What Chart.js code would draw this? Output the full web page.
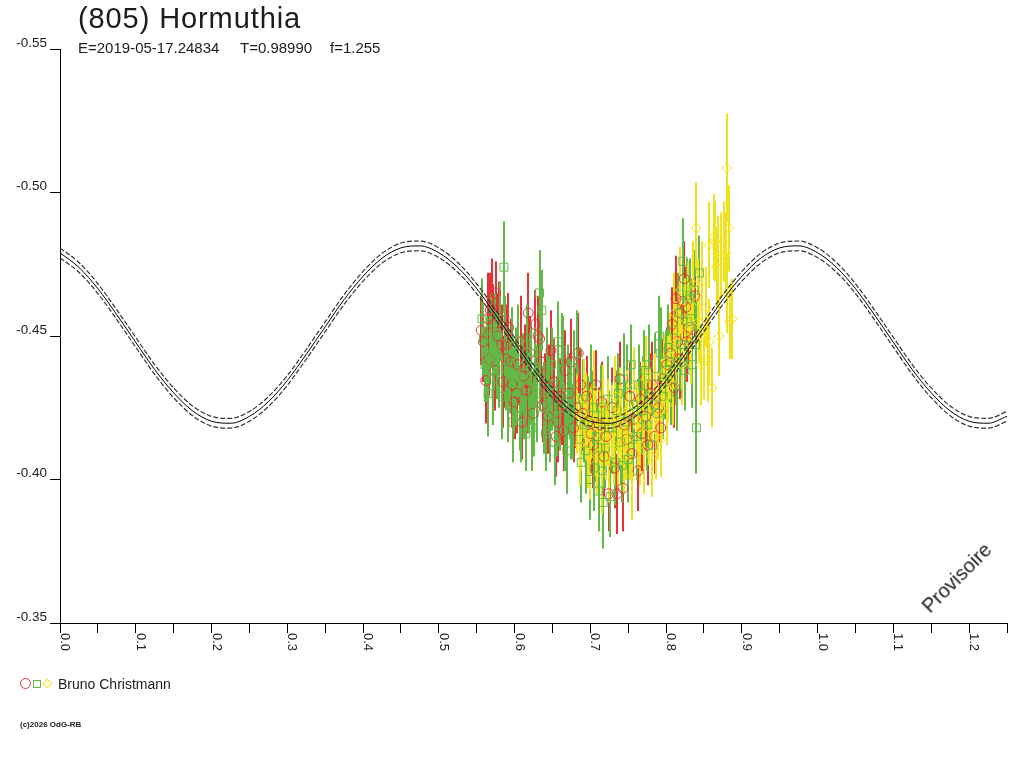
<!DOCTYPE html>
<html>
<head>
<meta charset="utf-8">
<script src="https://cdn.jsdelivr.net/npm/chart.js@4/dist/chart.umd.min.js"></script>
<style>
  body { margin: 0; background: #fff; }
  #wrap { position: relative; width: 1024px; height: 768px; font-family: "Liberation Sans", Arial, sans-serif; color: #1c1c1c; }
  #chart { position: absolute; left: 0; top: 0; }
  .txt { position: absolute; white-space: nowrap; line-height: 1; }
  #title { left: 78px; top: 4px; font-size: 29px; letter-spacing: 0.9px; }
  .sub { top: 40px; font-size: 15px; }
  #legend { left: 20px; top: 676px; height: 14px; }
  .sym { position: absolute; box-sizing: border-box; }
  #provisoire { left: 930px; top: 597px; font-size: 20px; transform-origin: 0 17px; transform: rotate(-45deg); }
  #copy { left: 20px; top: 721px; font-size: 8px; font-weight: bold; }
</style>
</head>
<body>
<div id="wrap">
  <canvas id="chart" width="1024" height="768"></canvas>
  <div class="txt" id="title">(805) Hormuthia</div>
  <div class="txt sub" style="left:78px">E=2019-05-17.24834</div>
  <div class="txt sub" style="left:240px">T=0.98990</div>
  <div class="txt sub" style="left:330px">f=1.255</div>
  <div class="txt" id="legend">
    <span class="sym" style="left:0;top:2px;width:11px;height:11px;border:1px solid #e8323a;border-radius:50%"></span>
    <span class="sym" style="left:13px;top:4px;width:8px;height:8px;border:1px solid #62b946"></span>
    <span class="sym" style="left:24px;top:4px;width:7px;height:7px;border:1px solid #f2e21c;transform:rotate(45deg)"></span>
    <span style="position:absolute;left:38px;top:1px;font-size:14px">Bruno Christmann</span>
  </div>
  <div class="txt" id="provisoire">Provisoire</div>
  <div class="txt" id="copy">(c)2026 OdG-RB</div>
</div>
<script>
// fitted curve, phase step 0.025
const curvePhase = [0.000,0.025,0.050,0.075,0.100,0.125,0.150,0.175,0.200,0.225,0.250,0.275,0.300,0.325,0.350,0.375,0.400,0.425,0.450,0.475,
  0.500,0.525,0.550,0.575,0.600,0.625,0.650,0.675,0.700,0.725,0.750,0.775,0.800,0.825,0.850,0.875,0.900,0.925,0.950,0.975,
  1.000,1.025,1.050,1.075,1.100,1.125,1.150,1.175,1.200,1.225,1.250];
const curveMid = [-0.4790,-0.4739,-0.4665,-0.4574,-0.4478,-0.4383,-0.4302,-0.4239,-0.4203,-0.4196,-0.4220,-0.4271,-0.4345,-0.4436,-0.4532,-0.4627,-0.4708,-0.4771,-0.4807,-0.4814,
  -0.4790,-0.4739,-0.4665,-0.4574,-0.4478,-0.4383,-0.4302,-0.4239,-0.4203,-0.4196,-0.4220,-0.4271,-0.4345,-0.4436,-0.4532,-0.4627,-0.4708,-0.4771,-0.4807,-0.4814,
  -0.4790,-0.4739,-0.4665,-0.4574,-0.4478,-0.4383,-0.4302,-0.4239,-0.4203,-0.4196,-0.4220];
const curveUpper = [-0.4807,-0.4756,-0.4682,-0.4591,-0.4495,-0.4400,-0.4319,-0.4256,-0.4220,-0.4213,-0.4237,-0.4288,-0.4362,-0.4453,-0.4549,-0.4644,-0.4725,-0.4788,-0.4824,-0.4831,
  -0.4807,-0.4756,-0.4682,-0.4591,-0.4495,-0.4400,-0.4319,-0.4256,-0.4220,-0.4213,-0.4237,-0.4288,-0.4362,-0.4453,-0.4549,-0.4644,-0.4725,-0.4788,-0.4824,-0.4831,
  -0.4807,-0.4756,-0.4682,-0.4591,-0.4495,-0.4400,-0.4319,-0.4256,-0.4220,-0.4213,-0.4237];
const curveLower = [-0.4773,-0.4722,-0.4648,-0.4557,-0.4461,-0.4366,-0.4285,-0.4222,-0.4186,-0.4179,-0.4203,-0.4254,-0.4328,-0.4419,-0.4515,-0.4610,-0.4691,-0.4754,-0.4790,-0.4797,
  -0.4773,-0.4722,-0.4648,-0.4557,-0.4461,-0.4366,-0.4285,-0.4222,-0.4186,-0.4179,-0.4203,-0.4254,-0.4328,-0.4419,-0.4515,-0.4610,-0.4691,-0.4754,-0.4790,-0.4797,
  -0.4773,-0.4722,-0.4648,-0.4557,-0.4461,-0.4366,-0.4285,-0.4222,-0.4186,-0.4179,-0.4203];

// observations: red circles
const redPhase = [0.556,0.562,0.565,0.568,0.572,0.575,0.578,0.583,0.588,0.592,0.597,0.600,0.604,0.608,0.612,0.616,0.620,0.624,0.627,0.631,
  0.635,0.640,0.644,0.648,0.652,0.657,0.662,0.667,0.672,0.678,0.684,0.690,0.695,0.701,0.707,0.712,0.718,0.724,0.729,0.735,
  0.739,0.743,0.748,0.752,0.758,0.763,0.768,0.773,0.779,0.785,0.790,0.796,0.801,0.806,0.811,0.815,0.819,0.822,0.826,0.830,0.834,0.838,
  0.559,0.566,0.570,0.574,0.580,0.585,0.590,0.595,0.603,0.610,0.614,0.618,0.633,0.637,0.646,0.655,0.660,0.665,0.675,0.681,
  0.687,0.698,0.704,0.715,0.721,0.732,0.745,0.755,0.766,0.776,0.782,0.793,0.808,0.813,0.818,0.824,0.828];
const redMag = [-0.4520,-0.4345,-0.4560,-0.4590,-0.4540,-0.4650,-0.4500,-0.4470,-0.4420,-0.4530,-0.4330,-0.4270,-0.4400,-0.4480,-0.4360,-0.4310,-0.4440,-0.4230,-0.4540,-0.4500,
  -0.4410,-0.4300,-0.4220,-0.4450,-0.4340,-0.4200,-0.4250,-0.4380,-0.4300,-0.4180,-0.4440,-0.4230,-0.4290,-0.4160,-0.4330,-0.4190,-0.4080,-0.3950,-0.4250,-0.3950,
  -0.4350,-0.3970,-0.4140,-0.4290,-0.4210,-0.4030,-0.4160,-0.4220,-0.4300,-0.4150,-0.4250,-0.4350,-0.4400,-0.4440,-0.4320,-0.4480,-0.4580,-0.4620,-0.4600,-0.4530,-0.4490,-0.4640,
  -0.4480,-0.4420,-0.4620,-0.4380,-0.4560,-0.4340,-0.4470,-0.4410,-0.4300,-0.4200,-0.4390,-0.4580,-0.4490,-0.4260,-0.4320,-0.4150,-0.4290,-0.4170,-0.4410,-0.4250,
  -0.4330,-0.4200,-0.4120,-0.4270,-0.4150,-0.4040,-0.4190,-0.4090,-0.4280,-0.4120,-0.4330,-0.4180,-0.4540,-0.4630,-0.4420,-0.4700,-0.4480];
const redErr = [0.012,0.015,0.016,0.013,0.014,0.011,0.015,0.014,0.017,0.012,0.015,0.013,0.014,0.016,0.014,0.015,0.013,0.014,0.012,0.014,
  0.015,0.014,0.013,0.014,0.015,0.014,0.013,0.014,0.014,0.012,0.014,0.013,0.014,0.014,0.012,0.013,0.014,0.013,0.014,0.014,
  0.013,0.015,0.014,0.012,0.013,0.014,0.013,0.012,0.014,0.013,0.012,0.014,0.013,0.012,0.014,0.014,0.012,0.013,0.014,0.013,0.012,0.014,
  0.014,0.013,0.015,0.014,0.013,0.016,0.014,0.015,0.014,0.013,0.015,0.014,0.014,0.013,0.015,0.014,0.013,0.014,0.015,0.014,
  0.013,0.014,0.015,0.014,0.013,0.014,0.015,0.014,0.013,0.014,0.015,0.014,0.013,0.015,0.014,0.013,0.014];

// green squares
const greenPhase = [0.559,0.563,0.567,0.571,0.574,0.577,0.581,0.586,0.589,0.592,0.596,0.599,0.602,0.605,0.609,0.613,0.617,0.620,0.623,0.627,
  0.630,0.633,0.636,0.639,0.643,0.647,0.650,0.653,0.657,0.660,0.664,0.667,0.671,0.675,0.679,0.683,0.686,0.690,0.694,0.697,
  0.701,0.705,0.708,0.711,0.714,0.717,0.720,0.723,0.726,0.729,0.733,0.737,0.740,0.744,0.747,0.750,0.754,0.757,0.761,0.764,
  0.768,0.771,0.775,0.778,0.782,0.786,0.789,0.793,0.796,0.800,0.803,0.807,0.810,0.813,0.816,0.819,0.822,0.825,0.828,0.831,
  0.834,0.837,0.840,0.844,
  0.557,0.561,0.565,0.569,0.573,0.579,0.584,0.588,0.594,0.598,0.604,0.607,0.611,0.615,0.619,0.622,0.626,0.634,0.641,0.645,
  0.649,0.656,0.662,0.669,0.673,0.677,0.688,0.692,0.699,0.703,0.710,0.716,0.725,0.735,0.742,0.749,0.756,0.763,0.770,0.777,
  0.785,0.791,0.798,0.805,0.815,0.821,0.827,0.833,0.839];
const greenMag = [-0.4490,-0.4420,-0.4470,-0.4350,-0.4510,-0.4430,-0.4560,-0.4740,-0.4390,-0.4290,-0.4460,-0.4310,-0.4360,-0.4420,-0.4220,-0.4290,-0.4470,-0.4350,-0.4180,-0.4390,
  -0.4300,-0.4650,-0.4590,-0.4250,-0.4380,-0.4200,-0.4330,-0.4130,-0.4480,-0.4250,-0.4410,-0.4170,-0.4320,-0.4240,-0.4380,-0.4440,-0.4140,-0.4280,-0.4100,-0.4200,
  -0.4330,-0.4040,-0.4150,-0.3960,-0.4250,-0.3920,-0.4110,-0.4280,-0.3940,-0.4180,-0.4060,-0.4300,-0.4130,-0.4350,-0.4200,-0.4070,-0.4400,-0.4260,-0.4150,-0.4330,
  -0.4240,-0.4380,-0.4190,-0.4290,-0.4120,-0.4360,-0.4230,-0.4440,-0.4290,-0.4380,-0.4460,-0.4350,-0.4520,-0.4410,-0.4580,-0.4470,-0.4760,-0.4380,-0.4550,-0.4630,
  -0.4400,-0.4660,-0.4180,-0.4720,
  -0.4560,-0.4400,-0.4300,-0.4520,-0.4450,-0.4380,-0.4290,-0.4500,-0.4360,-0.4200,-0.4480,-0.4250,-0.4370,-0.4160,-0.4300,-0.4420,-0.4230,-0.4380,-0.4160,-0.4290,
  -0.4400,-0.4220,-0.4450,-0.4100,-0.4280,-0.4200,-0.4060,-0.4190,-0.4000,-0.4250,-0.4110,-0.4030,-0.4180,-0.4240,-0.4050,-0.4330,-0.4140,-0.4210,-0.4300,-0.4400,
  -0.4260,-0.4500,-0.4340,-0.4410,-0.4300,-0.4470,-0.4640,-0.4560,-0.4470];
const greenErr = [0.013,0.015,0.014,0.016,0.014,0.015,0.013,0.016,0.015,0.016,0.014,0.015,0.017,0.014,0.016,0.015,0.014,0.016,0.015,0.014,
  0.017,0.015,0.014,0.016,0.015,0.014,0.016,0.015,0.014,0.015,0.016,0.014,0.015,0.017,0.014,0.015,0.016,0.014,0.015,0.016,
  0.014,0.015,0.016,0.014,0.015,0.016,0.014,0.015,0.014,0.016,0.015,0.014,0.015,0.016,0.014,0.015,0.014,0.016,0.015,0.014,
  0.015,0.014,0.016,0.015,0.014,0.015,0.014,0.016,0.015,0.014,0.015,0.016,0.014,0.015,0.014,0.016,0.015,0.014,0.015,0.014,
  0.015,0.014,0.016,0.013,
  0.014,0.013,0.015,0.013,0.014,0.013,0.015,0.014,0.013,0.014,0.013,0.015,0.014,0.013,0.014,0.013,0.015,0.014,0.013,0.014,
  0.013,0.014,0.013,0.015,0.014,0.013,0.014,0.013,0.014,0.013,0.015,0.014,0.013,0.014,0.013,0.014,0.013,0.014,0.013,0.014,
  0.013,0.014,0.013,0.014,0.013,0.014,0.013,0.014,0.015];

// yellow diamonds
const yellowPhase = [0.683,0.688,0.692,0.697,0.701,0.705,0.709,0.713,0.717,0.721,0.725,0.729,0.733,0.737,0.741,0.745,0.749,0.753,0.757,0.761,
  0.765,0.769,0.773,0.777,0.781,0.785,0.789,0.793,0.797,0.801,0.805,0.809,0.813,0.817,0.821,0.825,0.829,0.833,0.836,0.840,
  0.843,0.846,0.850,0.853,0.857,0.857,0.861,0.863,0.864,0.867,0.868,0.870,0.872,0.876,0.879,0.880,0.881,0.883,0.884,0.887,
  0.686,0.694,0.700,0.707,0.715,0.723,0.731,0.739,0.747,0.755,0.763,0.771,0.779,0.787,0.795,0.803,0.811,0.819,0.831,0.842,
  0.848,0.855];
const yellowMag = [-0.4230,-0.4160,-0.4280,-0.4120,-0.4200,-0.4310,-0.4090,-0.4180,-0.4250,-0.4140,-0.4060,-0.4200,-0.4290,-0.4110,-0.4190,-0.4080,-0.4240,-0.4150,-0.4320,-0.4210,
  -0.4120,-0.4270,-0.4350,-0.4180,-0.4080,-0.4300,-0.4220,-0.4140,-0.4370,-0.4260,-0.4430,-0.4330,-0.4480,-0.4520,-0.4400,-0.4560,-0.4610,-0.4470,-0.4680,-0.4876,
  -0.4550,-0.4400,-0.4410,-0.4600,-0.4817,-0.4480,-0.4320,-0.4845,-0.4830,-0.4740,-0.4770,-0.4500,-0.4780,-0.4828,-0.4790,-0.5085,-0.4650,-0.4875,-0.4550,-0.4560,
  -0.4120,-0.4220,-0.4070,-0.4160,-0.4020,-0.4200,-0.4120,-0.4240,-0.4140,-0.4010,-0.4180,-0.4100,-0.4250,-0.4150,-0.4280,-0.4350,-0.4580,-0.4660,-0.4530,-0.4620,
  -0.4690,-0.4420];
const yellowErr = [0.014,0.013,0.014,0.015,0.013,0.014,0.014,0.013,0.015,0.014,0.014,0.013,0.014,0.015,0.014,0.013,0.014,0.015,0.014,0.013,
  0.014,0.014,0.015,0.013,0.014,0.014,0.015,0.013,0.014,0.014,0.015,0.014,0.014,0.013,0.014,0.014,0.015,0.014,0.015,0.016,
  0.014,0.014,0.013,0.014,0.015,0.015,0.014,0.015,0.014,0.014,0.015,0.014,0.015,0.014,0.014,0.019,0.014,0.015,0.013,0.014,
  0.014,0.015,0.014,0.015,0.014,0.015,0.014,0.015,0.014,0.015,0.014,0.015,0.014,0.015,0.014,0.015,0.014,0.015,0.014,0.015,
  0.014,0.015];

const xTickLabels = ["0.0","0.1","0.2","0.3","0.4","0.5","0.6","0.7","0.8","0.9","1.0","1.1","1.2"];

const RED = "#e8323a", GREEN = "#62b946", YELLOW = "#f2e21c";

function pts(xs, ys) {
    return xs.map((x, i) => ({ x: x, y: ys[i] }));
}

// all error bars go down first, the symbols are drawn over them
const errorBars = {
    id: "errorBars",
    beforeDatasetsDraw(chart) {
        const ctx = chart.ctx, x = chart.scales.x, y = chart.scales.y;
        ctx.save();
        ctx.lineWidth = 2;
        for (let d = chart.data.datasets.length - 1; d >= 0; d--) {
            const ds = chart.data.datasets[d];
            if (!ds.errors) continue;
            ctx.strokeStyle = ds.borderColor;
            ds.data.forEach((p, i) => {
                const px = Math.round(x.getPixelForValue(p.x));
                ctx.beginPath();
                ctx.moveTo(px, y.getPixelForValue(p.y - ds.errors[i]));
                ctx.lineTo(px, y.getPixelForValue(p.y + ds.errors[i]));
                ctx.stroke();
            });
        }
        ctx.restore();
    }
};

// x tick labels are turned a quarter clockwise, under the major ticks
const xLabels = {
    id: "xLabels",
    afterDraw(chart) {
        const ctx = chart.ctx, x = chart.scales.x;
        ctx.save();
        ctx.font = "13px 'Liberation Sans', Arial";
        ctx.fillStyle = "#1c1c1c";
        ctx.textBaseline = "alphabetic";
        xTickLabels.forEach(lbl => {
            const px = x.getPixelForValue(parseFloat(lbl));
            ctx.save();
            ctx.translate(px, x.top + 10);
            ctx.rotate(Math.PI / 2);
            ctx.fillText(lbl, 0, -1);
            ctx.restore();
        });
        ctx.restore();
    }
};

const curveStyle = { showLine: true, pointRadius: 0, fill: false, cubicInterpolationMode: "monotone", order: 0 };

new Chart(document.getElementById("chart"), {
    type: "scatter",
    data: {
        datasets: [
            Object.assign({ data: pts(curvePhase, curveUpper), borderColor: "#333", borderWidth: 1.2, borderDash: [5, 2] }, curveStyle),
            Object.assign({ data: pts(curvePhase, curveMid), borderColor: "#000", borderWidth: 1 }, curveStyle),
            Object.assign({ data: pts(curvePhase, curveLower), borderColor: "#333", borderWidth: 1.2, borderDash: [5, 2] }, curveStyle),
            {
                data: pts(yellowPhase, yellowMag), errors: yellowErr, order: 1,
                pointStyle: "rectRot", pointRadius: 5, borderColor: YELLOW, borderWidth: 1, backgroundColor: "rgba(0,0,0,0)"
            },
            {
                data: pts(greenPhase, greenMag), errors: greenErr, order: 2,
                pointStyle: "rect", pointRadius: 5.6, borderColor: GREEN, borderWidth: 1, backgroundColor: "rgba(0,0,0,0)"
            },
            {
                data: pts(redPhase, redMag), errors: redErr, order: 3,
                pointStyle: "circle", pointRadius: 5, borderColor: RED, borderWidth: 1, backgroundColor: "rgba(0,0,0,0)"
            }
        ]
    },
    options: {
        responsive: false,
        animation: false,
        devicePixelRatio: 1,
        layout: { padding: { top: 49, right: 17, left: 0, bottom: 0 } },
        plugins: { legend: { display: false }, tooltip: { enabled: false } },
        scales: {
            x: {
                type: "linear",
                min: 0,
                max: 1.25,
                ticks: { stepSize: 0.05, display: false },
                grid: { drawOnChartArea: false, drawTicks: true, tickLength: 10, tickColor: "#000" },
                border: { color: "#000", width: 1 },
                afterFit: s => { s.height = 145; }
            },
            y: {
                type: "linear",
                reverse: true,
                min: -0.55,
                max: -0.35,
                ticks: {
                    stepSize: 0.05,
                    padding: 3,
                    labelOffset: -6,
                    color: "#1c1c1c",
                    font: { family: "'Liberation Sans', Arial", size: 13.5 },
                    callback: v => v.toFixed(2)
                },
                grid: { drawOnChartArea: false, drawTicks: true, tickLength: 10, tickColor: "#000" },
                border: { color: "#000", width: 1 },
                afterFit: s => { s.width = 60; }
            }
        }
    },
    plugins: [errorBars, xLabels]
});
</script>
</body>
</html>
